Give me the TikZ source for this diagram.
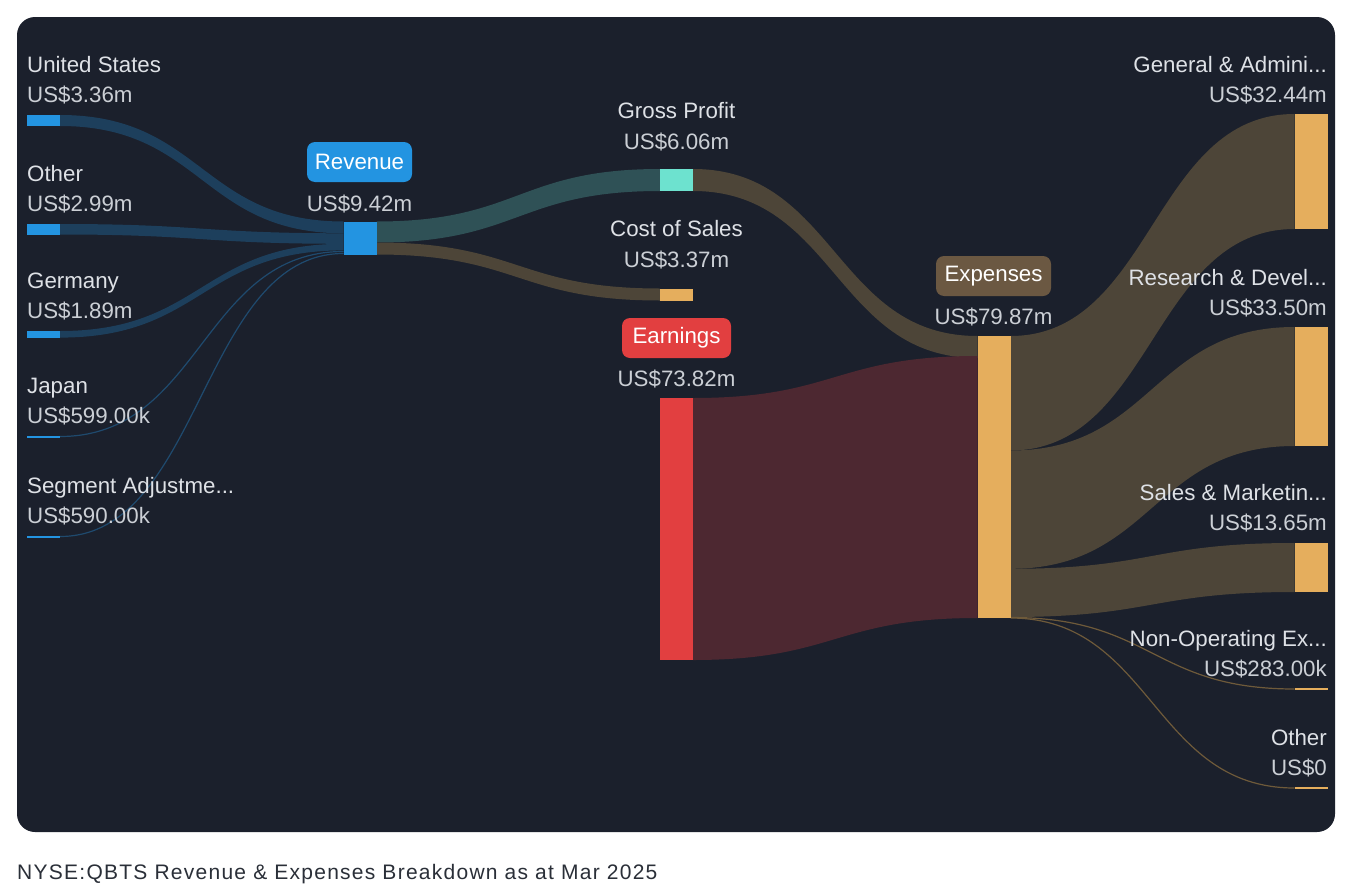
\documentclass[tikz,border=0pt]{standalone}
\usepackage{fontspec}
\setmainfont{Liberation Sans}
\newfontfamily\capfont[LetterSpace=6]{Liberation Sans}
\usetikzlibrary{calc}
\definecolor{panelbg}{HTML}{1B202C}
\definecolor{nblue}{HTML}{2394E1}
\definecolor{nteal}{HTML}{6DE2CF}
\definecolor{norange}{HTML}{E5AE5D}
\definecolor{nred}{HTML}{E23F40}
\definecolor{expbox}{HTML}{6B5842}
\definecolor{fblue}{HTML}{1D3F5C}
\definecolor{fteal}{HTML}{2F5156}
\definecolor{fbrown}{HTML}{4D4538}
\definecolor{fred}{HTML}{4D2831}
\definecolor{fthinb}{HTML}{1F4A6E}
\definecolor{fthino}{HTML}{6E5A3A}
\definecolor{lbl}{HTML}{DEE1E6}
\definecolor{val}{HTML}{CBCFD5}
\definecolor{captxt}{HTML}{2A2F38}
\tikzset{
  bar/.style={rectangle, inner sep=0pt, outer sep=0pt, minimum width=33pt, anchor=north west},
  lname/.style={font=\fontsize{22.3}{26}\selectfont, text=lbl, inner sep=0pt},
  lval/.style={font=\fontsize{22.3}{26}\selectfont, text=val, inner sep=0pt},
  tagbox/.style={rectangle, rounded corners=8pt, font=\fontsize{22.3}{26}\selectfont, text=white, inner sep=0pt},
  thinflow/.style={line width=1.2pt},
}
\newcommand\sflow[5]{%
  \fill[#1] let \p1=#2, \p2=#3, \p3=#4, \p4=#5, \n1={(\x1+\x3)/2} in
    (\p1) .. controls (\n1,\y1) and (\n1,\y3) .. (\p3) -- (\p4)
    .. controls (\n1,\y4) and (\n1,\y2) .. (\p2) -- cycle;}
\newcommand\lflow[3]{%
  \draw[thinflow,#1] let \p1=#2, \p3=#3, \n1={(\x1+\x3)/2} in
    (\p1) .. controls (\n1,\y1) and (\n1,\y3) .. (\p3);}
\begin{document}
\begin{tikzpicture}[x=1pt,y=-1pt]
\useasboundingbox (0,0) rectangle (1360,894);
\fill[white] (0,0) rectangle (1360,894);
\fill[panelbg, rounded corners=18pt] (17,17) rectangle (1335,832);

% ---- bars ----
\node[bar, fill=nblue, minimum height=11pt] (us) at (27,115) {};
\node[bar, fill=nblue, minimum height=10.5pt] (oth) at (27,224) {};
\node[bar, fill=nblue, minimum height=6.6pt] (ger) at (27,331) {};
\node[bar, fill=nblue, minimum height=2pt] (jap) at (27,435.5) {};
\node[bar, fill=nblue, minimum height=2pt] (seg) at (27,535.5) {};
\node[bar, fill=nblue, minimum height=33pt] (rev) at (343.5,221.5) {};
\node[bar, fill=nteal, minimum height=22pt] (gp) at (660,169) {};
\node[bar, fill=norange, minimum height=12pt] (cos) at (660,288.5) {};
\node[bar, fill=nred, minimum height=262pt] (ear) at (660,398) {};
\node[bar, fill=norange, minimum height=282pt] (exp) at (977.5,336) {};
\node[bar, fill=norange, minimum height=115pt] (ga) at (1294.5,114) {};
\node[bar, fill=norange, minimum height=119pt] (rd) at (1294.5,327) {};
\node[bar, fill=norange, minimum height=49pt] (sm) at (1294.5,543) {};
\node[bar, fill=norange, minimum height=2pt] (nop) at (1294.5,688) {};
\node[bar, fill=norange, minimum height=2pt] (oto) at (1294.5,787) {};

% ---- flows ----
\sflow{fblue}{(us.north east)}{(us.south east)}{(rev.north west)}{($(rev.north west)+(0,11.8)$)}
\sflow{fblue}{(oth.north east)}{(oth.south east)}{($(rev.north west)+(0,11.8)$)}{($(rev.north west)+(0,22.3)$)}
\sflow{fblue}{(ger.north east)}{(ger.south east)}{($(rev.north west)+(0,22.3)$)}{($(rev.north west)+(0,28.9)$)}
\lflow{fthinb}{(jap.east)}{($(rev.north west)+(0,30)$)}
\lflow{fthinb}{(seg.east)}{($(rev.north west)+(0,32)$)}
\sflow{fteal}{(rev.north east)}{($(rev.north east)+(0,21)$)}{(gp.north west)}{(gp.south west)}
\sflow{fbrown}{($(rev.north east)+(0,21)$)}{(rev.south east)}{(cos.north west)}{(cos.south west)}
\sflow{fbrown}{(gp.north east)}{(gp.south east)}{(exp.north west)}{($(exp.north west)+(0,22)$)}
\sflow{fred}{(ear.north east)}{(ear.south east)}{($(exp.north west)+(0,20)$)}{(exp.south west)}
\sflow{fbrown}{(exp.north east)}{($(exp.north east)+(0,114.5)$)}{(ga.north west)}{(ga.south west)}
\sflow{fbrown}{($(exp.north east)+(0,114.5)$)}{($(exp.north east)+(0,232.8)$)}{(rd.north west)}{(rd.south west)}
\sflow{fbrown}{($(exp.north east)+(0,232.8)$)}{($(exp.north east)+(0,281)$)}{(sm.north west)}{(sm.south west)}
\lflow{fthino}{($(exp.north east)+(0,281.5)$)}{(nop.west)}
\lflow{fthino}{(exp.south east)}{(oto.west)}
% redraw bars on top
\foreach \n/\c in {us/nblue,oth/nblue,ger/nblue,jap/nblue,seg/nblue,rev/nblue,gp/nteal,cos/norange,ear/nred,exp/norange,ga/norange,rd/norange,sm/norange,nop/norange,oto/norange}{
  \fill[\c] (\n.north west) rectangle (\n.south east);
}

% ---- left labels ----
\node[lname, anchor=base west] (usn) at (27,72) {United States};
\node[lval, anchor=base west] (usv) at (27,102) {US\$3.36m};
\node[lname, anchor=base west] (othn) at (27,181) {Other};
\node[lval, anchor=base west] (othv) at (27,211) {US\$2.99m};
\node[lname, anchor=base west] (gern) at (27,288) {Germany};
\node[lval, anchor=base west] (gerv) at (27,318) {US\$1.89m};
\node[lname, anchor=base west] (japn) at (27,393) {Japan};
\node[lval, anchor=base west] (japv) at (27,423) {US\$599.00k};
\node[lname, anchor=base west] (segn) at (27,493) {Segment Adjustme...};
\node[lval, anchor=base west] (segv) at (27,523) {US\$590.00k};

% ---- middle labels ----
\node[tagbox, fill=nblue, minimum width=105pt, minimum height=40pt] (revt) at (359.5,162) {Revenue};
\node[lval, anchor=base] (revv) at (359.5,211) {US\$9.42m};
\node[lname, anchor=base] (gpn) at (676.5,118) {Gross Profit};
\node[lval, anchor=base] (gpv) at (676.5,149) {US\$6.06m};
\node[lname, anchor=base] (cosn) at (676.5,236) {Cost of Sales};
\node[lval, anchor=base] (cosv) at (676.5,267) {US\$3.37m};
\node[tagbox, fill=nred, minimum width=109pt, minimum height=40pt] (eart) at (676.5,338) {Earnings};
\node[lval, anchor=base] (earv) at (676.5,386) {US\$73.82m};
\node[tagbox, fill=expbox, minimum width=115pt, minimum height=40pt] (expt) at (993.5,276) {Expenses};
\node[lval, anchor=base] (expv) at (993.5,324) {US\$79.87m};

% ---- right labels ----
\node[lname, anchor=base east] (gan) at (1327,72) {General \& Admini...};
\node[lval, anchor=base east] (gav) at (1327,102) {US\$32.44m};
\node[lname, anchor=base east] (rdn) at (1327,285) {Research \& Devel...};
\node[lval, anchor=base east] (rdv) at (1327,315) {US\$33.50m};
\node[lname, anchor=base east] (smn) at (1327,500) {Sales \& Marketin...};
\node[lval, anchor=base east] (smv) at (1327,530) {US\$13.65m};
\node[lname, anchor=base east] (nopn) at (1327,646) {Non-Operating Ex...};
\node[lval, anchor=base east] (nopv) at (1327,676) {US\$283.00k};
\node[lname, anchor=base east] (oton) at (1327,745) {Other};
\node[lval, anchor=base east] (otov) at (1327,775) {US\$0};

% ---- caption ----
\node[anchor=base west, inner sep=0pt, text=captxt, font=\capfont\fontsize{21}{25}\selectfont] (cap) at (17,879) {NYSE:QBTS Revenue \& Expenses Breakdown as at Mar 2025};
\end{tikzpicture}
\end{document}
